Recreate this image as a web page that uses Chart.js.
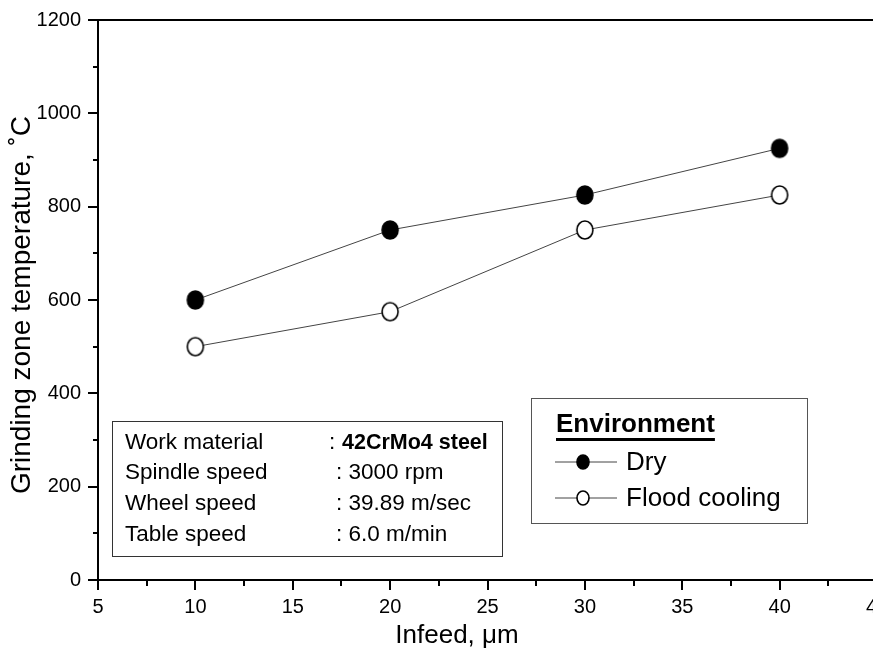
<!DOCTYPE html>
<html>
<head>
<meta charset="utf-8">
<script src="https://cdn.jsdelivr.net/npm/chart.js@4.4.1/dist/chart.umd.min.js"></script>
<style>
  html, body { margin: 0; padding: 0; background: #fff; overflow: hidden; width: 873px; height: 653px; }
  canvas { display: block; }
</style>
</head>
<body>
<canvas id="c" width="900" height="653"></canvas>
<script>
// ---- Data ----
const infeed = [10, 20, 30, 40];
const dryTemp = [600, 750, 825, 925];
const floodTemp = [500, 575, 750, 825];
const seriesNames = ['Dry', 'Flood cooling'];
const legendTitle = 'Environment';
const xTitle = 'Infeed, \u03BCm';
const yTitle = 'Grinding zone temperature, \u02DAC';
const infoLabels = ['Work material', 'Spindle speed', 'Wheel speed', 'Table speed'];
const infoValues = ['42CrMo4 steel', '3000 rpm', '39.89 m/sec', '6.0 m/min'];
const xMinorTicks = [7.5, 12.5, 17.5, 22.5, 27.5, 32.5, 37.5, 42.5];
const yMinorTicks = [100, 300, 500, 700, 900, 1100];

const FONT = "'Liberation Sans', Arial, Helvetica, sans-serif";

function toPoints(xs, ys) { return xs.map((x, i) => ({ x: x, y: ys[i] })); }

function ellipseMarker(fill, rx, ry) {
  const c = document.createElement('canvas');
  c.width = Math.ceil(rx * 2 + 4);
  c.height = Math.ceil(ry * 2 + 4);
  const g = c.getContext('2d');
  g.beginPath();
  g.ellipse(c.width / 2, c.height / 2, rx, ry, 0, 0, Math.PI * 2);
  g.fillStyle = fill;
  g.fill();
  g.strokeStyle = '#000';
  g.lineWidth = 1.6;
  g.stroke();
  return c;
}
const dryMarker = ellipseMarker('#000', 8, 9);
const floodMarker = ellipseMarker('#fff', 8, 9);
const dryLegMarker = ellipseMarker('#000', 6, 7);
const floodLegMarker = ellipseMarker('#fff', 6, 7);

const overlay = {
  id: 'overlay',
  afterDraw(chart) {
    const ctx = chart.ctx;
    const xs = chart.scales.x, ys = chart.scales.y;
    const a = chart.chartArea;
    ctx.save();
    ctx.strokeStyle = '#000';
    ctx.fillStyle = '#000';
    // top frame line
    ctx.lineWidth = 2;
    ctx.beginPath();
    ctx.moveTo(a.left - 1, a.top);
    ctx.lineTo(chart.width, a.top);
    ctx.stroke();
    // minor ticks
    yMinorTicks.forEach(v => {
      const py = Math.round(ys.getPixelForValue(v));
      ctx.beginPath(); ctx.moveTo(a.left - 5, py); ctx.lineTo(a.left, py); ctx.stroke();
    });
    xMinorTicks.forEach(v => {
      const px = Math.round(xs.getPixelForValue(v));
      ctx.beginPath(); ctx.moveTo(px, a.bottom); ctx.lineTo(px, a.bottom + 6); ctx.stroke();
    });
    // axis titles
    ctx.textAlign = 'center';
    ctx.textBaseline = 'middle';
    ctx.font = '28px ' + FONT;
    ctx.save();
    ctx.translate(22, 305);
    ctx.rotate(-Math.PI / 2);
    ctx.fillText(yTitle, 0, 0);
    ctx.restore();
    ctx.font = '26px ' + FONT;
    ctx.fillText(xTitle, 457, 636);

    // info box
    ctx.lineWidth = 1;
    ctx.strokeStyle = '#333';
    ctx.fillStyle = '#fff';
    ctx.fillRect(112, 421, 390, 135);
    ctx.strokeRect(112.5, 421.5, 390, 135);
    ctx.fillStyle = '#000';
    ctx.textAlign = 'left';
    const rowsY = [443, 473, 504, 535];
    infoLabels.forEach((lab, i) => {
      ctx.font = '22.5px ' + FONT;
      ctx.fillText(lab, 125, rowsY[i]);
      if (i === 0) {
        ctx.fillText(':', 329, rowsY[i]);
        ctx.font = 'bold 21.5px ' + FONT;
        ctx.fillText(infoValues[i], 342, rowsY[i]);
      } else {
        ctx.fillText(': ' + infoValues[i], 336, rowsY[i]);
      }
    });

    // legend box
    ctx.strokeStyle = '#555';
    ctx.fillStyle = '#fff';
    ctx.fillRect(531, 398, 276, 125);
    ctx.strokeRect(531.5, 398.5, 276, 125);
    ctx.fillStyle = '#000';
    ctx.font = 'bold 26px ' + FONT;
    ctx.fillText(legendTitle, 556, 425);
    const tw = ctx.measureText(legendTitle).width;
    ctx.fillRect(556, 438, tw, 3);
    const legY = [462, 498];
    const legMarkers = [dryLegMarker, floodLegMarker];
    chart.data.datasets.forEach((ds, i) => {
      const y = legY[i];
      ctx.strokeStyle = ds.borderColor;
      ctx.lineWidth = 1;
      ctx.beginPath(); ctx.moveTo(555, y); ctx.lineTo(617, y); ctx.stroke();
      const m = legMarkers[i];
      ctx.drawImage(m, 583 - m.width / 2, y - m.height / 2);
      ctx.fillStyle = '#000';
      ctx.font = '26px ' + FONT;
      ctx.fillText(ds.label, 626, y + 1);
    });
    ctx.restore();
  }
};

new Chart(document.getElementById('c'), {
  type: 'line',
  data: {
    datasets: [
      {
        label: seriesNames[0],
        data: toPoints(infeed, dryTemp),
        borderColor: '#444',
        borderWidth: 1,
        pointStyle: dryMarker,
        pointRadius: 9,
        tension: 0
      },
      {
        label: seriesNames[1],
        data: toPoints(infeed, floodTemp),
        borderColor: '#444',
        borderWidth: 1,
        pointStyle: floodMarker,
        pointRadius: 9,
        tension: 0
      }
    ]
  },
  options: {
    responsive: false,
    animation: false,
    events: [],
    layout: { padding: { top: 20, right: 23, left: 0, bottom: 0 } },
    plugins: { legend: { display: false }, tooltip: { enabled: false }, title: { display: false } },
    scales: {
      x: {
        type: 'linear',
        min: 5, max: 45,
        afterFit(s) { s.height = 73; },
        ticks: { stepSize: 5, color: '#000', padding: 5, font: { family: FONT, size: 20 }, maxRotation: 0, autoSkip: false,
                 callback: v => String(v) },
        grid: { drawOnChartArea: false, drawTicks: true, tickLength: 10, lineWidth: 2, color: '#000' },
        border: { display: true, color: '#000', width: 2 }
      },
      y: {
        type: 'linear',
        min: 0, max: 1200,
        afterFit(s) { s.width = 98; },
        ticks: { stepSize: 200, color: '#000', padding: 7, font: { family: FONT, size: 20 },
                 callback: v => String(v) },
        grid: { drawOnChartArea: false, drawTicks: true, tickLength: 10, lineWidth: 2, color: '#000' },
        border: { display: true, color: '#000', width: 2 }
      }
    }
  },
  plugins: [overlay]
});
</script>
</body>
</html>
